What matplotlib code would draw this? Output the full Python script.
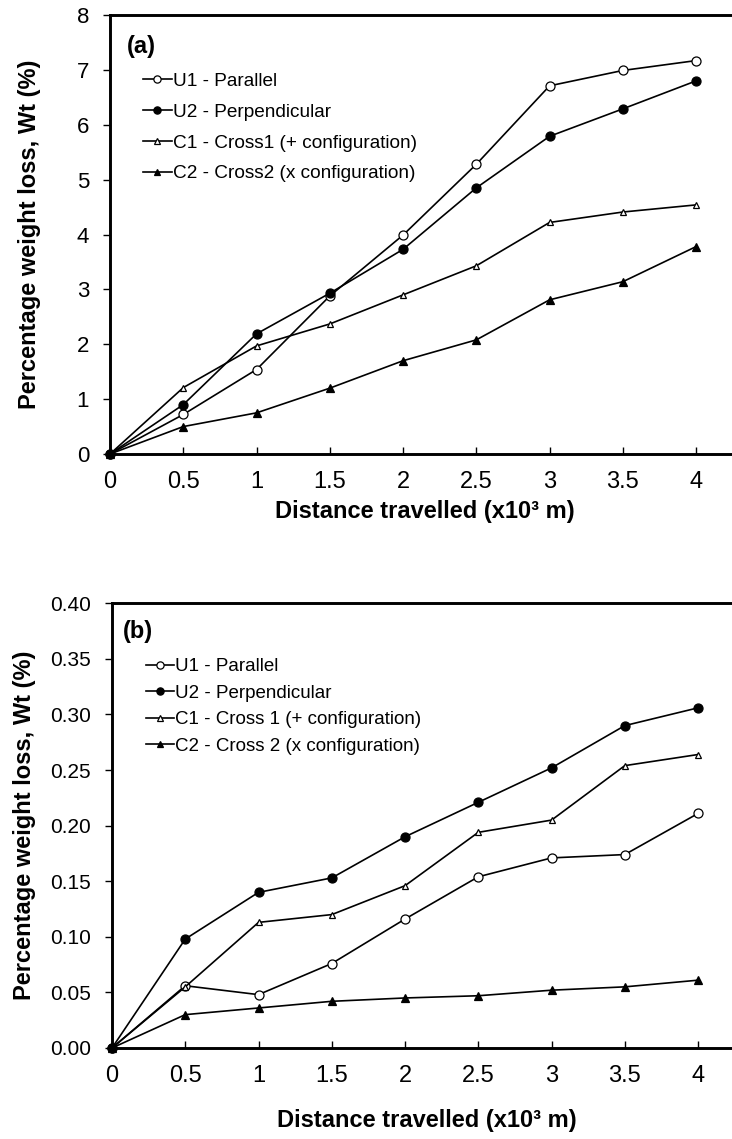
import numpy as np
import matplotlib.pyplot as plt

plt.rcParams['font.family'] = ['Liberation Sans', 'DejaVu Sans']

distance = [0, 0.5, 1, 1.5, 2, 2.5, 3, 3.5, 4]

# (a)
u1_a = [0, 0.72, 1.54, 2.88, 3.99, 5.28, 6.71, 6.99, 7.17]
u2_a = [0, 0.90, 2.19, 2.93, 3.73, 4.85, 5.79, 6.29, 6.80]
c1_a = [0, 1.21, 1.97, 2.37, 2.90, 3.43, 4.22, 4.41, 4.54]
c2_a = [0, 0.50, 0.75, 1.20, 1.70, 2.08, 2.81, 3.14, 3.78]
labels_a = ["U1 - Parallel", "U2 - Perpendicular",
            "C1 - Cross1 (+ configuration)", "C2 - Cross2 (x configuration)"]

# (b)
u1_b = [0, 0.056, 0.048, 0.076, 0.116, 0.154, 0.171, 0.174, 0.211]
u2_b = [0, 0.098, 0.140, 0.153, 0.190, 0.221, 0.252, 0.290, 0.306]
c1_b = [0, 0.055, 0.113, 0.120, 0.146, 0.194, 0.205, 0.254, 0.264]
c2_b = [0, 0.030, 0.036, 0.042, 0.045, 0.047, 0.052, 0.055, 0.061]
labels_b = ["U1 - Parallel", "U2 - Perpendicular",
            "C1 - Cross 1 (+ configuration)", "C2 - Cross 2 (x configuration)"]

styles = [dict(marker='o', mfc='white', ms=6.5),
          dict(marker='o', mfc='black', ms=6.5),
          dict(marker='^', mfc='white', ms=5),
          dict(marker='^', mfc='black', ms=5.5)]

fig = plt.figure(figsize=(7.32, 11.39), dpi=100)

def draw(ax, series, labels, ylim, yticks, yfmt, yfs, panel, panel_xy,
         leg_fs, leg_space, leg_xy):
    for y, lab, st in zip(series, labels, styles):
        ax.plot(distance, y, color='black', lw=1.2, mec='black', mew=0.9,
                label=lab, clip_on=False, zorder=3, **st)
    ax.set_xlim(0, 4.3)
    ax.set_ylim(*ylim)
    ax.set_xticks(distance)
    ax.set_xticklabels([f"{d:g}" for d in distance])
    ax.set_yticks(yticks)
    ax.set_yticklabels([yfmt.format(v) for v in yticks])
    ax.tick_params(axis='x', direction='in', length=5, width=1, labelsize=17, pad=12)
    ax.tick_params(axis='y', direction='out', length=5, width=1, labelsize=yfs, pad=10)
    for s in ['left', 'bottom', 'top']:
        ax.spines[s].set_linewidth(2.1)
    ax.spines['right'].set_visible(False)
    ax.text(panel_xy[0], panel_xy[1], panel, transform=ax.transAxes, fontsize=17,
            fontweight='bold', va='center', ha='left')
    ax.legend(loc='upper left', bbox_to_anchor=leg_xy, frameon=False,
              fontsize=leg_fs, handlelength=1.5, handletextpad=0.05,
              labelspacing=leg_space, borderaxespad=0, borderpad=0,
              markerscale=0.8)

ax1 = fig.add_axes([0.1503, 0.6014, 0.8607, 0.3854])
draw(ax1, [u1_a, u2_a, c1_a, c2_a], labels_a, (0, 8), range(0, 9), "{:d}",
     16, "(a)", (0.027, 0.929), 13.7, 0.71, (0.0524, 0.869))
ax1.set_xlabel("Distance travelled (x10³ m)", fontsize=17, fontweight='bold', labelpad=5)
ax1.set_ylabel("Percentage weight loss, Wt (%)", fontsize=17, fontweight='bold')
ax1.yaxis.set_label_coords(-0.11, 0.5)

ax2 = fig.add_axes([0.153, 0.0799, 0.8607, 0.3904])
draw(ax2, [u1_b, u2_b, c1_b, c2_b], labels_b, (0, 0.40),
     np.round(np.arange(0, 0.401, 0.05), 2), "{:.2f}", 15, "(b)", (0.0175, 0.936),
     13.5, 0.5, (0.0535, 0.8766))
ax2.set_xlabel("Distance travelled (x10³ m)", fontsize=17, fontweight='bold', labelpad=16)
ax2.set_ylabel("Percentage weight loss, Wt (%)", fontsize=17, fontweight='bold')
ax2.yaxis.set_label_coords(-0.12, 0.5)

fig.savefig("out.png", dpi=100)
